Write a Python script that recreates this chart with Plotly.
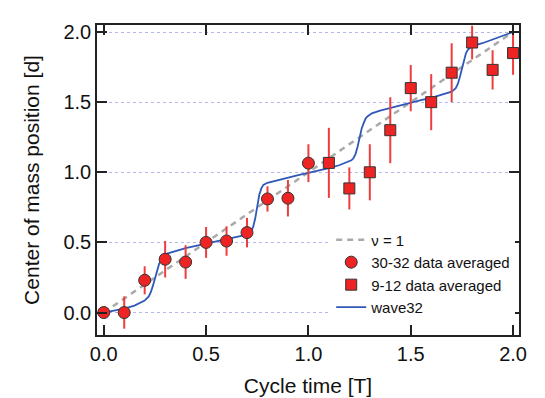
import plotly.graph_objects as go

# ---- data ----
nu_x = [0.0, 2.0]
nu_y = [0.0, 2.0]

circ_x = [0.0, 0.1, 0.2, 0.3, 0.4, 0.5, 0.6, 0.7, 0.8, 0.9, 1.0]
circ_y = [0.0, 0.0, 0.23, 0.38, 0.36, 0.50, 0.51, 0.57, 0.81, 0.815, 1.065]
circ_err = [0.045, 0.115, 0.10, 0.13, 0.12, 0.11, 0.105, 0.105, 0.09, 0.13, 0.135]

sq_x = [1.1, 1.2, 1.3, 1.4, 1.5, 1.6, 1.7, 1.8, 1.9, 2.0]
sq_y = [1.067, 0.885, 1.0, 1.30, 1.60, 1.50, 1.71, 1.925, 1.73, 1.85]
sq_err = [0.25, 0.15, 0.20, 0.235, 0.165, 0.20, 0.21, 0.12, 0.14, 0.155]

wave_x = [0.00, 0.05, 0.10, 0.15, 0.18, 0.20, 0.22, 0.23, 0.24, 0.25, 0.26, 0.27,
          0.28, 0.29, 0.31, 0.35, 0.40, 0.45, 0.50, 0.55, 0.60, 0.65, 0.70, 0.72,
          0.73, 0.74, 0.75, 0.76, 0.77, 0.78, 0.80, 0.85, 0.90, 0.95, 1.00, 1.05,
          1.10, 1.15, 1.20, 1.21, 1.22, 1.23, 1.24, 1.25, 1.26, 1.27, 1.28, 1.29,
          1.31, 1.35, 1.40, 1.45, 1.50, 1.55, 1.60, 1.65, 1.70, 1.72, 1.73, 1.74,
          1.75, 1.76, 1.77, 1.78, 1.80, 1.85, 1.90, 1.95, 2.00]
wave_y = [0.000, 0.012, 0.028, 0.050, 0.068, 0.085, 0.115, 0.145, 0.190, 0.240, 0.300, 0.345,
          0.375, 0.395, 0.420, 0.440, 0.460, 0.475, 0.490, 0.505, 0.520, 0.535, 0.555, 0.580,
          0.610, 0.670, 0.760, 0.840, 0.885, 0.910, 0.925, 0.945, 0.965, 0.980, 0.995, 1.010,
          1.030, 1.050, 1.075, 1.085, 1.100, 1.130, 1.180, 1.250, 1.310, 1.350, 1.385, 1.400,
          1.420, 1.440, 1.460, 1.480, 1.500, 1.515, 1.530, 1.550, 1.575, 1.600, 1.630, 1.680,
          1.740, 1.800, 1.850, 1.875, 1.900, 1.920, 1.945, 1.970, 2.000]

FONT = "Liberation Sans, Arial, sans-serif"
RED = "#ee2424"
ERR = "#f03c3c"

fig = go.Figure()
fig.add_trace(go.Scatter(x=nu_x, y=nu_y, mode="lines", name="ν = 1", legendrank=1,
                         line=dict(color="#aaaaaa", width=2.5, dash="6px,5px")))
fig.add_trace(go.Scatter(x=wave_x, y=wave_y, mode="lines", name="wave32", legendrank=4,
                         line=dict(color="#2f58b8", width=1.8)))
fig.add_trace(go.Scatter(x=circ_x, y=circ_y, mode="markers", name="30-32 data averaged", legendrank=2,
                         marker=dict(symbol="circle", size=12, color=RED, line=dict(color="#333333", width=1)),
                         error_y=dict(type="data", array=circ_err, color=ERR, thickness=2, width=0)))
fig.add_trace(go.Scatter(x=sq_x, y=sq_y, mode="markers", name="9-12 data averaged", legendrank=3,
                         marker=dict(symbol="square", size=11, color=RED, line=dict(color="#333333", width=1)),
                         error_y=dict(type="data", array=sq_err, color=ERR, thickness=2, width=0)))

axis_common = dict(showline=True, linecolor="#222222", linewidth=1.5, mirror="ticks",
                   ticks="inside", ticklen=10, tickwidth=1.5, tickcolor="#222222",
                   zeroline=False, tickfont=dict(family=FONT, size=20, color="#111111"))

fig.update_xaxes(range=[-0.033, 2.029], tickvals=[0, 0.5, 1.0, 1.5, 2.0],
                 ticktext=["0.0", "0.5", "1.0", "1.5", "2.0"], showgrid=False,
                 title=dict(text="Cycle time [T]", font=dict(family=FONT, size=21, color="#111111"), standoff=15),
                 **axis_common)
fig.update_yaxes(range=[-0.16, 2.05], tickvals=[0, 0.5, 1.0, 1.5, 2.0],
                 ticktext=["0.0", "0.5", "1.0", "1.5", "2.0"], showgrid=True,
                 gridcolor="#b4b8ee", gridwidth=1, griddash="dot",
                 title=dict(text="Center of mass position [d]", font=dict(family=FONT, size=21, color="#111111"), standoff=18),
                 **axis_common)

fig.update_layout(
    width=545, height=398,
    margin=dict(l=89, r=34, t=17, b=69),
    paper_bgcolor="white", plot_bgcolor="white",
    legend=dict(x=0.555, y=0.36, xanchor="left", yanchor="top",
                bgcolor="white", borderwidth=0,
                font=dict(family=FONT, size=15, color="#111111"),
                tracegroupgap=0, itemwidth=30),
)

fig.write_html("out.html")
